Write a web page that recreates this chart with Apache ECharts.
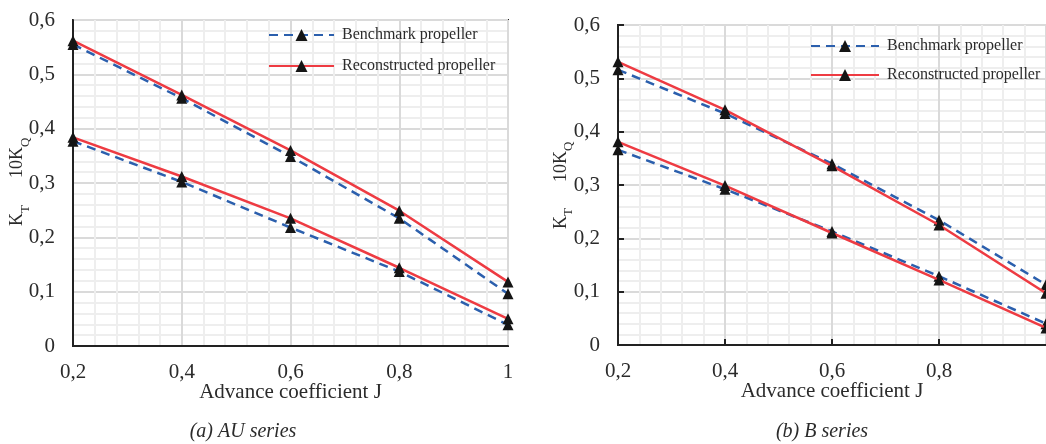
<!DOCTYPE html>
<html>
<head>
<meta charset="utf-8">
<script src="https://cdn.jsdelivr.net/npm/echarts@6/dist/echarts.min.js"></script>
<style>
html,body{margin:0;padding:0;background:#fff;}
#chart{width:1046px;height:444px;}
</style>
</head>
<body>
<div id="chart"></div>
<script>
// ---- data ----
const advanceJ = [0.2, 0.4, 0.6, 0.8, 1.0];

// (a) AU series
const auBenchUpper = [0.555, 0.456, 0.349, 0.235, 0.096];
const auReconUpper = [0.562, 0.462, 0.360, 0.249, 0.118];
const auBenchLower = [0.377, 0.302, 0.218, 0.137, 0.039];
const auReconLower = [0.384, 0.312, 0.235, 0.144, 0.050];

// (b) B series
const bBenchUpper = [0.516, 0.434, 0.340, 0.234, 0.113];
const bReconUpper = [0.531, 0.441, 0.336, 0.225, 0.097];
const bBenchLower = [0.366, 0.292, 0.213, 0.129, 0.040];
const bReconLower = [0.381, 0.299, 0.210, 0.122, 0.032];

const legendNames = ['Benchmark propeller', 'Reconstructed propeller'];
const xAxisTitle = 'Advance coefficient J';
const captions = ['(a) AU series', '(b) B series'];

// ---- styling ----
const FONT = 'Liberation Serif';
const TXT = '#2b2b2b';
const BLUE = '#2b5fad';
const RED = '#ee3b42';
const MARK = '#151515';

const pairs = ys => advanceJ.map((x, i) => [x, ys[i]]);
const fmt = v => String(Math.round(v * 100) / 100).replace('.', ',');

function mkSeries(name, ys, idx, isBench) {
  return {
    type: 'line', name: name, xAxisIndex: idx, yAxisIndex: idx,
    data: pairs(ys),
    symbol: 'triangle', symbolSize: 11,
    itemStyle: { color: MARK },
    lineStyle: isBench ? { color: BLUE, width: 2.5, type: [9, 6] } : { color: RED, width: 2.5 },
    z: isBench ? 2 : 3,
    animation: false
  };
}

function xAxisCfg(idx, hideMax, ticks) {
  return {
    type: 'value', gridIndex: idx, min: 0.2, max: 1.0, interval: 0.2,
    name: xAxisTitle, nameLocation: 'middle', nameGap: 36, nameMoveOverlap: false,
    nameTextStyle: { fontFamily: FONT, fontSize: 21, color: TXT },
    axisLine: { show: true, lineStyle: { color: '#222', width: 2 } },
    axisTick: { show: ticks, inside: true, length: 6, lineStyle: { color: '#222', width: 2 } },
    axisLabel: { fontFamily: FONT, fontSize: 21, color: TXT, margin: 16, formatter: fmt, showMaxLabel: !hideMax },
    splitLine: { show: true, lineStyle: { color: '#dadada', width: 2 } },
    minorTick: { show: false, splitNumber: 5 },
    minorSplitLine: { show: true, lineStyle: { color: '#eeeeee', width: 2 } }
  };
}
function yAxisCfg(idx, ticks) {
  return {
    type: 'value', gridIndex: idx, min: 0, max: 0.6, interval: 0.1,
    axisLine: { show: true, lineStyle: { color: '#222', width: 2 } },
    axisTick: { show: ticks, inside: true, length: 6, lineStyle: { color: '#222', width: 2 } },
    axisLabel: { fontFamily: FONT, fontSize: 21, color: TXT, margin: 18, formatter: fmt },
    splitLine: { show: true, lineStyle: { color: '#dadada', width: 2 } },
    minorTick: { show: false, splitNumber: 5 },
    minorSplitLine: { show: true, lineStyle: { color: '#eeeeee', width: 2 } }
  };
}

function yTitle(gx, gyQ, gyT) {
  const t = (text, x, y, size) => ({
    type: 'text', x: x, y: y,
    style: { text: text, font: size + 'px "' + FONT + '"', fill: TXT, align: 'left', verticalAlign: 'middle' }
  });
  return [
    { type: 'group', x: gx, y: gyQ, rotation: Math.PI / 2,
      children: [t('10K', 0, 0, 18), t('Q', 31, 8, 13)] },
    { type: 'group', x: gx, y: gyT, rotation: Math.PI / 2,
      children: [t('K', 0, 0, 18), t('T', 13, 8, 13)] }
  ];
}

function legendCfg(left, top, w, gap) {
  return {
    orient: 'vertical', left: left, top: top, padding: 0,
    itemWidth: w, itemHeight: 15, itemGap: gap,
    data: legendNames,
    textStyle: { fontFamily: FONT, fontSize: 16, color: TXT, padding: [0, 0, 0, 3] }
  };
}

const option = {
  backgroundColor: '#fff',
  animation: false,
  grid: [
    { left: 73, right: 538, top: 20, bottom: 98, show: true, borderColor: '#222', borderWidth: 2, backgroundColor: 'transparent' },
    { left: 618, right: -5, top: 25, bottom: 99, show: true, borderColor: '#222', borderWidth: 2, backgroundColor: 'transparent' }
  ],
  xAxis: [xAxisCfg(0, false, false), xAxisCfg(1, true, true)],
  yAxis: [yAxisCfg(0, false), yAxisCfg(1, true)],
  legend: [legendCfg(268, 27, 65, 15), legendCfg(810, 38, 68, 13)],
  series: [
    mkSeries(legendNames[0], auBenchUpper, 0, true),
    mkSeries(legendNames[0], auBenchLower, 0, true),
    mkSeries(legendNames[1], auReconUpper, 0, false),
    mkSeries(legendNames[1], auReconLower, 0, false),
    mkSeries(legendNames[0], bBenchUpper, 1, true),
    mkSeries(legendNames[0], bBenchLower, 1, true),
    mkSeries(legendNames[1], bReconUpper, 1, false),
    mkSeries(legendNames[1], bReconLower, 1, false)
  ],
  graphic: [
    ...yTitle(17.5, 178, 226),
    ...yTitle(561, 182, 229),
    { type: 'text', x: 243, y: 432, style: { text: captions[0], font: 'italic 20px "' + FONT + '"', fill: TXT, align: 'center', verticalAlign: 'middle' } },
    { type: 'text', x: 822, y: 432, style: { text: captions[1], font: 'italic 20px "' + FONT + '"', fill: TXT, align: 'center', verticalAlign: 'middle' } }
  ]
};

const chart = echarts.init(document.getElementById('chart'), null, { renderer: 'canvas' });
chart.setOption(option);
</script>
</body>
</html>
